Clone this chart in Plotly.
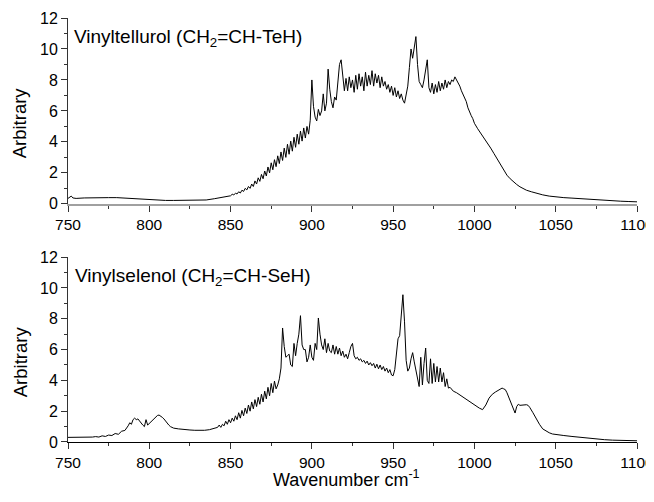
import plotly.graph_objects as go

# ---- Vinyltellurol (top panel) ----
wn_top = [750, 752, 753, 755, 760, 765, 770, 775, 780, 785, 790, 795, 800, 805, 810, 815, 820, 825, 830, 835, 840, 845, 848,
          850, 851, 852, 853, 854, 855, 856, 857, 858, 859, 860, 861, 862, 863, 864, 865, 866, 867, 868, 869,
          870, 871, 872, 873, 874, 875, 876, 877, 878, 879, 880, 881, 882, 883, 884, 885, 886, 887, 888, 889,
          890, 891, 892, 893, 894, 895, 896, 897, 898, 899, 900, 901, 902, 903, 904, 905, 906, 907, 908, 909,
          910, 911, 912, 913, 914, 915, 916, 917, 918, 919, 920, 921, 922, 923, 924, 925, 926, 927, 928, 929,
          930, 931, 932, 933, 934, 935, 936, 937, 938, 939, 940, 941, 942, 943, 944, 945, 946, 947, 948, 949,
          950, 951, 952, 953, 954, 955, 956, 957, 958, 959, 960, 961, 962, 963, 964, 965, 966, 967, 968, 969,
          970, 971, 972, 973, 974, 975, 976, 977, 978, 979, 980, 981, 982, 983, 984, 985, 986, 987, 988, 989,
          990, 991, 992, 993, 994, 995, 996, 997, 998, 999, 1000, 1002, 1004, 1006, 1008, 1010, 1012, 1014,
          1016, 1018, 1020, 1022, 1024, 1026, 1028, 1030, 1032, 1035, 1038, 1042, 1046, 1050, 1055, 1060,
          1065, 1070, 1075, 1080, 1085, 1090, 1095, 1100]
ab_top = [0.35, 0.50, 0.38, 0.35, 0.38, 0.40, 0.42, 0.40, 0.40, 0.37, 0.32, 0.28, 0.25, 0.23, 0.22, 0.22, 0.22, 0.22, 0.22, 0.25, 0.33, 0.42, 0.50,
          0.52, 0.62, 0.58, 0.68, 0.64, 0.78, 0.70, 0.88, 0.80, 1.00, 0.90, 1.12, 1.00, 1.28, 1.12, 1.48, 1.28, 1.68, 1.45, 1.90,
          1.62, 2.12, 1.80, 2.38, 2.00, 2.65, 2.20, 2.85, 2.40, 3.10, 2.60, 3.35, 2.80, 3.60, 3.00, 3.85, 3.20, 4.05, 3.40, 4.30,
          3.65, 4.50, 3.85, 4.70, 4.05, 4.90, 4.25, 5.00, 4.50, 5.40, 8.00, 6.30, 5.60, 5.35, 6.10, 5.70, 6.00, 7.10, 6.00, 6.50,
          8.70, 7.40, 6.60, 6.20, 6.90, 6.70, 7.80, 9.00, 9.30, 8.30, 7.30, 8.10, 7.30, 8.20, 7.50, 8.00, 7.20, 8.30, 7.40, 8.40,
          7.60, 8.20, 7.30, 8.50, 7.60, 8.30, 7.70, 8.60, 7.60, 8.40, 7.80, 8.30, 7.50, 8.20, 7.60, 7.90, 7.40, 7.70, 7.20, 7.60,
          7.00, 7.50, 6.90, 7.30, 6.80, 7.10, 6.70, 6.50, 7.20, 7.60, 8.80, 10.00, 9.40, 10.10, 10.80, 9.00, 7.90, 7.70, 7.50, 8.00,
          8.70, 9.30, 7.50, 7.20, 7.80, 7.10, 7.70, 7.20, 7.90, 7.30, 7.80, 7.40, 8.00, 7.50, 7.90, 7.70, 8.00, 7.90, 8.20, 8.00,
          7.90, 7.60, 7.30, 7.10, 6.90, 6.60, 6.20, 5.90, 5.70, 5.50, 5.20, 4.85, 4.55, 4.25, 3.95, 3.60, 3.25, 2.90,
          2.50, 2.15, 1.85, 1.62, 1.42, 1.25, 1.10, 0.98, 0.88, 0.78, 0.68, 0.58, 0.50, 0.44, 0.40, 0.37,
          0.33, 0.30, 0.28, 0.25, 0.20, 0.17, 0.15, 0.13]

# ---- Vinylselenol (bottom panel) ----
wn_bot = [750, 755, 760, 762, 765, 767, 769, 771, 773, 775, 777, 779, 781, 783, 785, 787, 788, 789, 790, 791, 792, 793, 794,
          795, 796, 797, 798, 799, 800, 801, 802, 803, 804, 805, 806, 807, 808, 809, 810, 811, 812, 813, 815, 818, 821,
          825, 828, 831, 834, 837, 840, 842, 843, 844, 845,
          846, 847, 848, 849, 850, 851, 852, 853, 854, 855, 856, 857, 858, 859, 860, 861, 862, 863, 864, 865, 866, 867,
          868, 869, 870, 871, 872, 873, 874, 875, 876, 877, 878, 879, 880, 881, 882, 883, 884, 885, 886, 887, 888, 889,
          890, 891, 892, 893, 894, 895, 896, 897, 898, 899, 900, 901, 902, 903, 904, 905, 906, 907, 908, 909, 910, 911,
          912, 913, 914, 915, 916, 917, 918, 919, 920, 921, 922, 923, 924, 925, 926, 927, 928, 929, 930, 931, 932, 933,
          934, 935, 936, 937, 938, 939, 940, 941, 942, 943, 944, 945, 946, 947, 948, 949, 950, 951, 952, 953, 954, 955,
          956, 957, 958, 959, 960, 961, 962, 963, 964, 965, 966, 967, 968, 969, 970, 971, 972, 973, 974, 975, 976, 977,
          978, 979, 980, 981, 982, 983, 984, 985, 987, 989, 991, 993, 995, 997, 999, 1001, 1003, 1005, 1007, 1009,
          1011, 1013, 1015, 1017, 1018, 1019, 1020, 1021, 1022, 1023, 1024, 1025, 1026, 1027, 1028, 1030, 1032, 1033,
          1034, 1036, 1038, 1040, 1042, 1044, 1046, 1048, 1050, 1055, 1060, 1065, 1070, 1075, 1080, 1085, 1090, 1095, 1100]
ab_bot = [0.30, 0.30, 0.30, 0.28, 0.32, 0.35, 0.32, 0.40, 0.36, 0.45, 0.42, 0.55, 0.50, 0.70, 0.75, 1.05, 1.25, 1.15, 1.45, 1.55, 1.45, 1.50, 1.35,
          1.25, 1.10, 1.00, 1.45, 1.10, 1.20, 1.35, 1.45, 1.50, 1.65, 1.72, 1.75, 1.70, 1.60, 1.50, 1.35, 1.20, 1.10, 1.00, 0.90, 0.85, 0.80,
          0.78, 0.76, 0.74, 0.76, 0.80, 0.88, 0.95, 1.10, 0.95, 1.15,
          1.05, 1.35, 1.15, 1.45, 1.25, 1.55, 1.35, 1.70, 1.45, 1.90, 1.55, 2.05, 1.70, 2.20, 1.85, 2.40, 2.00, 2.60, 2.15, 2.75, 2.30, 2.90,
          2.45, 3.10, 2.60, 3.30, 2.80, 3.55, 3.00, 3.80, 3.20, 3.95, 3.45, 3.70, 4.10, 4.80, 7.40, 6.20, 5.50, 5.60, 5.70, 5.00, 4.90, 6.40,
          5.60, 6.40, 7.00, 8.20, 6.30, 6.00, 6.00, 5.20, 5.50, 6.30, 5.50, 5.30, 6.40, 6.00, 8.05, 7.00, 6.30, 6.00, 6.70, 5.80, 6.40, 5.90,
          5.80, 6.30, 5.70, 6.20, 5.70, 6.10, 5.60, 5.90, 5.50, 5.70, 5.40, 5.80, 6.20, 6.40, 5.60, 5.40, 5.50, 5.30, 5.40, 5.20, 5.30, 5.10,
          5.25, 5.00, 5.15, 4.95, 5.10, 4.80, 5.05, 4.75, 5.00, 4.70, 4.90, 4.60, 4.80, 4.50, 4.70, 4.35, 4.30, 4.70, 5.60, 6.70, 6.90, 8.50,
          9.56, 7.80, 5.30, 4.60, 4.80, 5.40, 5.80, 5.20, 4.60, 4.00, 3.60, 5.50, 3.70, 5.10, 6.10, 4.00, 3.80, 5.40, 3.80, 5.10, 3.90, 4.90,
          3.90, 4.80, 3.90, 4.50, 3.60, 4.10, 3.50, 3.55, 3.30, 3.20, 3.05, 2.95, 2.80, 2.65, 2.50, 2.35, 2.20, 2.10, 2.40, 2.85,
          3.10, 3.25, 3.40, 3.50, 3.45, 3.40, 3.20, 2.95, 2.70, 2.40, 2.10, 1.88, 2.30, 2.45, 2.38, 2.40, 2.42, 2.38,
          2.25, 1.90, 1.50, 1.15, 0.85, 0.70, 0.60, 0.52, 0.48, 0.42, 0.36, 0.30, 0.25, 0.20, 0.15, 0.12, 0.10, 0.08, 0.08]

x_ticks = [750, 800, 850, 900, 950, 1000, 1050, 1100]
y_ticks = [0, 2, 4, 6, 8, 10, 12]
labels = ["Vinyltellurol (CH<sub>2</sub>=CH-TeH)", "Vinylselenol (CH<sub>2</sub>=CH-SeH)"]
y_title = "Arbitrary"
x_title = "Wavenumber cm<sup>-1</sup>"

FONT = "Arial, Liberation Sans, sans-serif"

fig = go.Figure()
fig.add_trace(go.Scatter(x=wn_top, y=ab_top, mode="lines", line=dict(color="black", width=1),
                         xaxis="x", yaxis="y", showlegend=False))
fig.add_trace(go.Scatter(x=wn_bot, y=ab_bot, mode="lines", line=dict(color="black", width=1),
                         xaxis="x2", yaxis="y2", showlegend=False))

def xax(anchor, linecolor, lw):
    return dict(range=[750, 1100], tickvals=x_ticks, ticktext=[str(v) for v in x_ticks],
                showline=True, linecolor=linecolor, linewidth=lw, ticks="outside", ticklen=6,
                tickcolor="#333", tickwidth=1, showgrid=False, zeroline=False, automargin=False,
                ticklabeloverflow="allow",
                minor=dict(ticks="outside", ticklen=3, dtick=25, tick0=750, tickcolor="#333", showgrid=False),
                tickfont=dict(family=FONT, size=15.5, color="black"), anchor=anchor)

def yax(domain, anchor):
    return dict(domain=domain, range=[0, 12], tickvals=y_ticks, showline=True, linecolor="#333",
                linewidth=1, ticks="outside", ticklen=6, tickcolor="#333", showgrid=False,
                zeroline=False, anchor=anchor, automargin=False, ticklabeloverflow="allow",
                minor=dict(ticks="outside", ticklen=3, dtick=1, tickcolor="#333", showgrid=False),
                tickfont=dict(family=FONT, size=16, color="black"))

ann = dict(xref="paper", yref="paper", showarrow=False)
fig.update_layout(
    width=646, height=486,
    margin=dict(l=60, r=17, t=10, b=52),
    paper_bgcolor="white", plot_bgcolor="white",
    xaxis=xax("y", "#a0a0a0", 2),
    yaxis=yax([0.5617, 1.0], "x"),
    xaxis2=xax("y2", "black", 1),
    yaxis2=yax([0.0, 0.436], "x2"),
    annotations=[
        dict(text=labels[0], x=0.007, y=0.953, xanchor="left", yanchor="middle",
             font=dict(family=FONT, size=19, color="black"), **ann),
        dict(text=labels[1], x=0.009, y=0.39, xanchor="left", yanchor="middle",
             font=dict(family=FONT, size=19, color="black"), **ann),
        dict(text=y_title, x=-0.0837, y=0.7525, xanchor="center", yanchor="middle", textangle=-90,
             font=dict(family=FONT, size=18.5, color="black"), **ann),
        dict(text=y_title, x=-0.0837, y=0.189, xanchor="center", yanchor="middle", textangle=-90,
             font=dict(family=FONT, size=18.5, color="black"), **ann),
        dict(text=x_title, x=0.4886, y=-0.118, xanchor="center", yanchor="bottom",
             font=dict(family=FONT, size=18, color="black"), **ann),
    ],
)

fig.write_html("out.html")
